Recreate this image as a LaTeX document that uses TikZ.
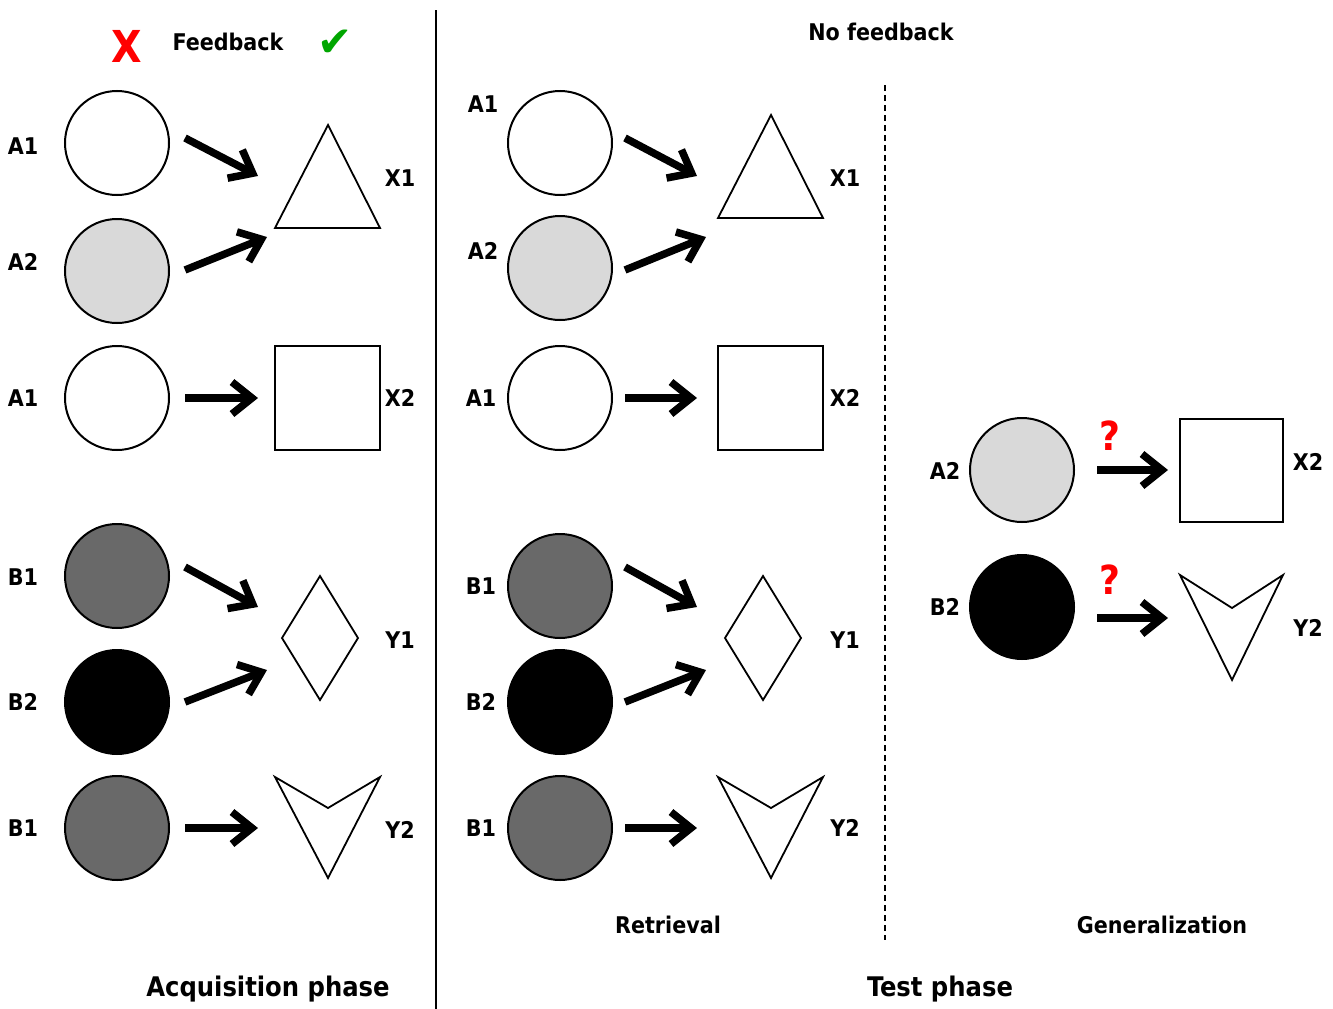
\documentclass[tikz,border=0pt]{standalone}
\usepackage{fontspec}
\setmainfont{DejaVu Sans Condensed}
\newfontfamily\symfont{DejaVu Sans}
\usetikzlibrary{arrows.meta}
\definecolor{lightcue}{gray}{0.85}
\definecolor{darkcue}{gray}{0.41}
\tikzset{
  stim/.style={circle,draw=black,line width=2pt,minimum size=104pt,inner sep=0pt},
  lbl/.style={font=\fontsize{23}{27}\selectfont\bfseries,inner sep=0pt},
  phase/.style={font=\fontsize{27}{32}\selectfont\bfseries,inner sep=0pt},
  query/.style={text=red,font=\fontsize{40}{40}\selectfont\bfseries,inner sep=0pt},
  assoc/.style={line width=7.5pt,-{Straight Barb[length=20pt,width=32pt]}},
  outcome/.style={draw=black,line width=1.8pt,line join=miter},
}
\begin{document}
\begin{tikzpicture}[x=1pt,y=-1pt]
  \useasboundingbox (0,0) rectangle (1333,1009);

  % Panel separators
  \coordinate (sepTop) at (436,10);
  \coordinate (sepBot) at (436,1009);
  \draw[line width=2.2pt] (sepTop) -- (sepBot);
  \coordinate (dashTop) at (885,85);
  \coordinate (dashBot) at (885,940);
  \draw[dash pattern=on 6pt off 4pt,line width=1.2pt] (dashTop) -- (dashBot);

  % Headings
  \node[text=red,font=\fontsize{44}{44}\selectfont\bfseries,inner sep=0pt] (wrong) at (127,46) {X};
  \node[lbl] (fb) at (228,42) {Feedback};
  \node[text=green!65!black,font=\fontsize{42}{42}\selectfont\symfont,inner sep=0pt] (right) at (335,43) {✔};
  \node[lbl] (nofb) at (881,32) {No feedback};

  % Cues: acquisition, retrieval, generalization
  \foreach \pos/\name/\shade in {{(117,143)/aA1/white}, {(117,271)/aA2/lightcue}, {(117,398)/aA3/white},
      {(117,576)/aB1/darkcue}, {(117,702)/aB2/black}, {(117,828)/aB3/darkcue},
      {(560,143)/rA1/white}, {(560,268)/rA2/lightcue}, {(560,398)/rA3/white},
      {(560,586)/rB1/darkcue}, {(560,702)/rB2/black}, {(560,828)/rB3/darkcue},
      {(1022,470)/gA2/lightcue}, {(1022,607)/gB2/black}}
    \node[stim,fill=\shade] (\name) at \pos {};

  % Cue labels
  \foreach \pos/\name/\text in {{(23,146)/laA1/A1}, {(23,262)/laA2/A2}, {(23,398)/laA3/A1},
      {(23,577)/laB1/B1}, {(23,702)/laB2/B2}, {(23,828)/laB3/B1},
      {(483,104)/lrA1/A1}, {(483,251)/lrA2/A2}, {(481,398)/lrA3/A1},
      {(481,586)/lrB1/B1}, {(481,702)/lrB2/B2}, {(481,828)/lrB3/B1},
      {(945,471)/lgA2/A2}, {(945,607)/lgB2/B2}}
    \node[lbl] (\name) at \pos {\text};

  % Outcomes
  \foreach \dx/\ty/\p in {0/125/a, 443/115/r} {
    \draw[outcome] (328+\dx,\ty) -- (380+\dx,\ty+103) -- (275+\dx,\ty+103) -- cycle;
    \draw[outcome] (275+\dx,346) rectangle (380+\dx,450);
    \draw[outcome] (320+\dx,576) -- (358+\dx,638) -- (320+\dx,700) -- (282+\dx,638) -- cycle;
    \draw[outcome] (275+\dx,777) -- (328+\dx,808) -- (380+\dx,777) -- (328+\dx,878) -- cycle;
  }
  \draw[outcome] (1180,419) rectangle (1283,522);
  \draw[outcome] (1180,575) -- (1232,608) -- (1283,575) -- (1232,680) -- cycle;

  % Outcome labels
  \foreach \pos/\name/\text in {{(400,178)/lX1a/X1}, {(400,398)/lX2a/X2}, {(400,640)/lY1a/Y1}, {(400,830)/lY2a/Y2},
      {(845,178)/lX1r/X1}, {(845,398)/lX2r/X2}, {(845,640)/lY1r/Y1}, {(845,828)/lY2r/Y2},
      {(1308,462)/lX2g/X2}, {(1308,628)/lY2g/Y2}}
    \node[lbl] (\name) at \pos {\text};

  % Associations
  \foreach \x/\y/\u/\v [count=\i] in {185/138/258/176, 185/270/267/237, 185/398/258/398,
      185/567/258/607, 185/702/267/670, 185/828/258/828,
      625/138/697/176, 625/270/706/237, 625/398/697/398,
      625/567/697/607, 625/702/706/670, 625/828/697/828,
      1097/470/1168/470, 1097/618/1168/618} {
    \coordinate (s\i) at (\x,\y);
    \coordinate (e\i) at (\u,\v);
    \draw[assoc] (s\i) -- (e\i);
  }

  % Unknown outcomes
  \node[query] (qX2) at (1110,436) {?};
  \node[query] (qY2) at (1110,580) {?};

  % Phase captions
  \node[lbl] (ret) at (668,925) {Retrieval};
  \node[lbl] (gen) at (1162,925) {Generalization};
  \node[phase] (acq) at (268,989) {Acquisition phase};
  \node[phase] (test) at (940,989) {Test phase};
\end{tikzpicture}
\end{document}
